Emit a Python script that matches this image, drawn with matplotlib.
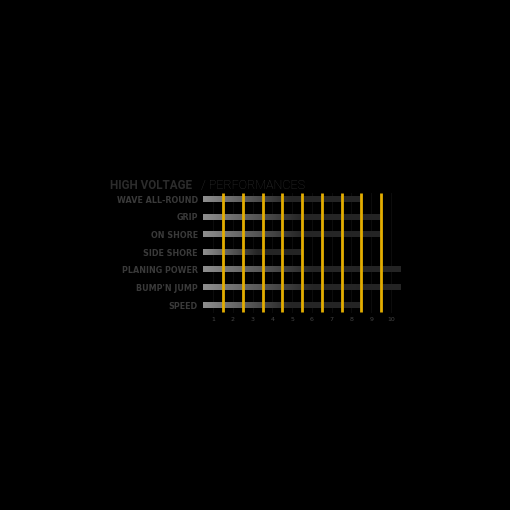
import numpy as np
import matplotlib
matplotlib.use('Agg')
import matplotlib.pyplot as plt
from matplotlib.colors import LinearSegmentedColormap

# dados do gráfico
categorias = ['WAVE ALL-ROUND', 'GRIP', 'ON SHORE', 'SIDE SHORE',
              'PLANING POWER', "BUMP'N JUMP", 'SPEED']
valores = [8, 9, 9, 5, 10, 10, 8]
escala = [1, 2, 3, 4, 5, 6, 7, 8, 9, 10]
separadores = [1.5, 2.5, 3.5, 4.5, 5.5, 6.5, 7.5, 8.5, 9.5]

fig = plt.figure(figsize=(5.1001, 5.1001), dpi=100, facecolor='black')
ax = fig.add_axes([0.3988, 0.3847, 0.387, 0.2418], facecolor='black')

# degradê cinza claro -> escuro, depois escuro constante
cmap = LinearSegmentedColormap.from_list(
    'barra', [(0, '#8e8e8e'), (0.55, '#262626'), (1, '#242424')])
grad = np.linspace(0, 1, 256).reshape(1, -1)
altura = 0.15

for i, v in enumerate(valores):
    ax.imshow(grad, cmap=cmap, aspect='auto', interpolation='bilinear',
              extent=(0.5, v + 0.5, i + altura, i - altura), zorder=2)

# linhas discretas nos inteiros
for x in escala:
    ax.plot([x, x], [-0.38, 6.38], color='#0d0d0d', lw=0.7, zorder=1)

# linhas amarelas
for x in separadores:
    ax.plot([x, x], [-0.38, 6.38], color='#e3ad00', lw=2.0, zorder=3,
            solid_capstyle='butt')

ax.set_xlim(0.5, 10.5)
ax.set_ylim(6.5, -0.5)
ax.set_xticks(escala)
ax.set_xticklabels([str(e) for e in escala], fontsize=4.5, color='#454545',
                   family='DejaVu Sans')
ax.set_yticks(range(len(categorias)))
ax.set_yticklabels(categorias, fontsize=5.8, color='#3a3a3a',
                   family='DejaVu Sans', fontweight='bold')
ax.tick_params(length=0, pad=2, axis='x')
ax.tick_params(length=0, pad=3.9, axis='y')
for s in ax.spines.values():
    s.set_visible(False)

# título
fig.text(110 / 510, 1 - 188.7 / 510, 'HIGH VOLTAGE', fontsize=8.4,
         fontweight='bold', color='#2c2c2c', family='Roboto',
         ha='left', va='baseline')
fig.text(201 / 510, 1 - 188.7 / 510, '/ PERFORMANCES', fontsize=9.0,
         fontweight='light', color='#333333', family='Roboto',
         ha='left', va='baseline')

fig.savefig('out.png', dpi=100, facecolor='black')
